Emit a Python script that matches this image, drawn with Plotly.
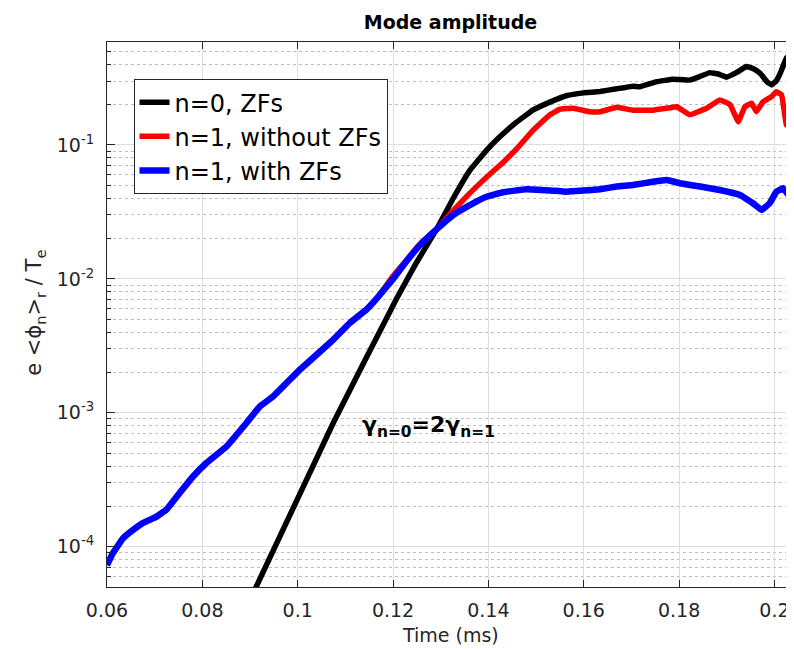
import plotly.graph_objects as go

# ---- data ----
t_n0 = [0.0905, 0.1074, 0.1207, 0.1249, 0.1291, 0.1326, 0.1361, 0.1396, 0.1424, 0.1459,
        0.1493, 0.1529, 0.1565, 0.1600, 0.1634, 0.1669, 0.1703, 0.1718, 0.1753, 0.1787,
        0.1822, 0.1843, 0.1864, 0.1882, 0.1899, 0.1920, 0.1941, 0.1955, 0.1970, 0.1985,
        0.1994, 0.2004, 0.2012, 0.2025, 0.2033, 0.2041]
amp_n0 = [4.37e-5, 8.32e-4, 7.08e-3, 1.32e-2, 2.34e-2, 3.98e-2, 6.46e-2, 9.12e-2, 0.115, 0.148,
          0.182, 0.209, 0.234, 0.245, 0.251, 0.263, 0.275, 0.272, 0.297, 0.310,
          0.305, 0.324, 0.347, 0.339, 0.321, 0.347, 0.385, 0.372, 0.343, 0.295,
          0.281, 0.302, 0.343, 0.445, 0.468, 0.431]

t_n1_noZF = [0.0600, 0.0612, 0.0633, 0.0654, 0.0675, 0.0703, 0.0724, 0.0752, 0.0780, 0.0808,
             0.0850, 0.0892, 0.0920, 0.0948, 0.0976, 0.1004, 0.1039, 0.1074, 0.1109, 0.1144,
             0.1165, 0.1200, 0.1230, 0.1256, 0.1291, 0.1326, 0.1361, 0.1396, 0.1431, 0.1459,
             0.1494, 0.1529, 0.1550, 0.1578, 0.1613, 0.1634, 0.1669, 0.1703, 0.1745, 0.1774,
             0.1795, 0.1822, 0.1858, 0.1885, 0.1907, 0.1924, 0.1938, 0.1952, 0.1962, 0.1976,
             0.1994, 0.2004, 0.2015, 0.2025, 0.2032, 0.2041]
amp_n1_noZF = [7.3e-5, 8.9e-5, 1.15e-4, 1.33e-4, 1.50e-4, 1.67e-4, 1.88e-4, 2.51e-4, 3.33e-4, 4.20e-4,
               5.58e-4, 8.36e-4, 1.11e-3, 1.32e-3, 1.66e-3, 2.09e-3, 2.70e-3, 3.50e-3, 4.68e-3, 5.89e-3,
               7.08e-3, 1.05e-2, 1.41e-2, 1.82e-2, 2.34e-2, 3.24e-2, 4.37e-2, 5.75e-2, 7.41e-2, 9.33e-2,
               0.129, 0.168, 0.185, 0.188, 0.177, 0.177, 0.191, 0.182, 0.182, 0.188,
               0.193, 0.168, 0.188, 0.217, 0.200, 0.149, 0.193, 0.205, 0.177, 0.210,
               0.230, 0.250, 0.236, 0.141, 0.217, 0.258]

t_n1_ZF = [0.0600, 0.0612, 0.0633, 0.0654, 0.0675, 0.0703, 0.0724, 0.0752, 0.0780, 0.0808,
           0.0850, 0.0892, 0.0920, 0.0948, 0.0976, 0.1004, 0.1039, 0.1074, 0.1109, 0.1144,
           0.1165, 0.1200, 0.1230, 0.1256, 0.1291, 0.1326, 0.1361, 0.1396, 0.1431, 0.1480,
           0.1529, 0.1564, 0.1600, 0.1634, 0.1669, 0.1703, 0.1745, 0.1774, 0.1802, 0.1844,
           0.1885, 0.1927, 0.1955, 0.1973, 0.1990, 0.2004, 0.2018, 0.2032, 0.2041]
amp_n1_ZF = [7.3e-5, 8.9e-5, 1.15e-4, 1.33e-4, 1.50e-4, 1.67e-4, 1.88e-4, 2.51e-4, 3.33e-4, 4.20e-4,
             5.58e-4, 8.36e-4, 1.11e-3, 1.32e-3, 1.66e-3, 2.09e-3, 2.70e-3, 3.50e-3, 4.68e-3, 5.89e-3,
             7.08e-3, 1.00e-2, 1.38e-2, 1.78e-2, 2.34e-2, 3.00e-2, 3.56e-2, 4.11e-2, 4.44e-2, 4.67e-2,
             4.57e-2, 4.48e-2, 4.57e-2, 4.67e-2, 4.90e-2, 5.02e-2, 5.32e-2, 5.48e-2, 5.18e-2, 4.89e-2,
             4.61e-2, 4.24e-2, 3.67e-2, 3.27e-2, 3.67e-2, 4.48e-2, 4.75e-2, 4.11e-2, 3.67e-2]

series_names = ["n=0, ZFs", "n=1, without ZFs", "n=1, with ZFs"]
series_colors = ["#000000", "#ff0000", "#0000ff"]

x_tickvals = [0.06, 0.08, 0.10, 0.12, 0.14, 0.16, 0.18, 0.20]
x_ticktext = ["0.06", "0.08", "0.1", "0.12", "0.14", "0.16", "0.18", "0.2"]
y_tickvals = [1e-4, 1e-3, 1e-2, 1e-1]
y_ticktext = ["10<sup>-4</sup>", "10<sup>-3</sup>", "10<sup>-2</sup>", "10<sup>-1</sup>"]

FONT = "DejaVu Sans"
AX = "#262626"

# page body has an 8px margin: figure is sized to fit the 794x649 window
W, H = 786, 641

fig = go.Figure()
for xs, ys, name, col, w in [
    (t_n0, amp_n0, series_names[0], series_colors[0], 5.5),
    (t_n1_noZF, amp_n1_noZF, series_names[1], series_colors[1], 5.5),
    (t_n1_ZF, amp_n1_ZF, series_names[2], series_colors[2], 6.5),
]:
    fig.add_trace(go.Scatter(x=xs, y=ys, mode="lines", name=name,
                             line=dict(color=col, width=w, shape="spline", smoothing=0.2)))

fig.update_layout(
    width=W, height=H,
    margin=dict(l=99, r=0, t=34, b=62, autoexpand=False),
    plot_bgcolor="white", paper_bgcolor="white",
    font=dict(family=FONT, color=AX, size=19),
    title=dict(text="<b>Mode amplitude</b>", x=0.5, xref="paper", xanchor="center",
               y=1 - 14 / H, yref="container", yanchor="middle", automargin=False,
               font=dict(family=FONT, size=19, color="#000000")),
    showlegend=True,
    legend=dict(x=0.0386, y=0.932, xanchor="left", yanchor="top",
                bgcolor="white", bordercolor=AX, borderwidth=1,
                font=dict(family=FONT, size=24, color="#000000"),
                tracegroupgap=0),
)

fig.update_xaxes(
    range=[0.06, 0.2041], automargin=False,
    tickmode="array", tickvals=x_tickvals, ticktext=x_ticktext,
    ticks="inside", ticklen=7, tickwidth=1, tickcolor=AX,
    showline=True, linecolor=AX, linewidth=1, mirror="ticks",
    showgrid=True, gridcolor="#dedede", gridwidth=1, zeroline=False,
    tickfont=dict(family=FONT, size=19, color=AX),
    ticklabelstandoff=6,
)
fig.update_yaxes(
    type="log", range=[-4.301, -0.231], automargin=False,
    tickmode="array", tickvals=y_tickvals, ticktext=y_ticktext,
    ticks="inside", ticklen=8, tickwidth=1, tickcolor=AX,
    showline=True, linecolor=AX, linewidth=1, mirror=False,
    showgrid=True, gridcolor="#dedede", gridwidth=1, zeroline=False,
    tickfont=dict(family=FONT, size=19, color=AX),
    ticklabelstandoff=8,
    minor=dict(dtick="D1", ticks="inside", ticklen=4, tickcolor=AX,
               showgrid=True, griddash="dot", gridcolor="#bdbdbd", gridwidth=1),
)

fig.add_annotation(text="e &lt;ϕ<sub>n</sub>&gt;<sub>r</sub> / T<sub>e</sub>",
                   xref="paper", yref="paper", x=-0.1048, y=0.503,
                   xanchor="center", yanchor="middle", textangle=-90, showarrow=False,
                   font=dict(family=FONT, size=21, color=AX))
fig.add_annotation(text="Time (ms)", xref="paper", yref="paper", x=0.5, y=-0.088,
                   xanchor="center", yanchor="middle", showarrow=False,
                   font=dict(family=FONT, size=19, color=AX))
fig.add_annotation(text="<b>γ<sub>n=0</sub>=2γ<sub>n=1</sub></b>",
                   xref="paper", yref="paper", x=0.3678, y=0.2936,
                   xanchor="left", yanchor="middle", showarrow=False,
                   font=dict(family=FONT, size=22, color="#000000"))

fig.write_html("out.html")
